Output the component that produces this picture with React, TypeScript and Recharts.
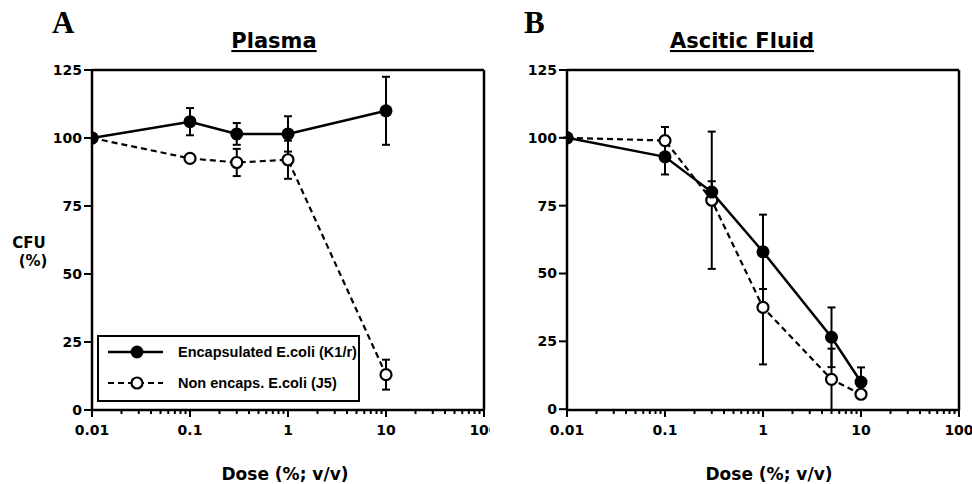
import React from "react";
import {
  LineChart,
  Line,
  XAxis,
  YAxis,
  ErrorBar,
  ReferenceLine,
} from "recharts";

// Plasma (panel A)
const plasmaDose = [0.01, 0.1, 0.3, 1, 10];
const plasmaEncap = [100, 106, 101.5, 101.5, 110];
const plasmaEncapErr: [number, number][] = [[0, 0], [5, 5], [4, 4], [6.5, 6.5], [12.5, 12.5]];
const plasmaNon = [100, 92.5, 91, 92, 13];
const plasmaNonErr: [number, number][] = [[0, 0], [0, 0], [5, 5], [7, 7], [5.5, 5.5]];

// Ascitic fluid (panel B)
const asciticDose = [0.01, 0.1, 0.3, 1, 5, 10];
const asciticEncap = [100, 93, 80, 58, 26.5, 10];
const asciticEncapErr: [number, number][] = [[0, 0], [6.5, 6.5], [4, 4], [13.7, 13.7], [11, 11], [5.4, 5.4]];
const asciticNon = [100, 99, 77, 37.5, 11, 5.5];
const asciticNonErr: [number, number][] = [[0, 0], [5, 5], [25.3, 25.3], [21, 21], [11.3, 11.3], [0, 0]];

const yTicks = [0, 25, 50, 75, 100, 125];
const majorTicks = [0.01, 0.1, 1, 10, 100];
const majorLabels = ["0.01", "0.1", "1", "10", "100"];
const xTicks: number[] = [];
for (let e = -2; e < 2; e++) {
  for (let m = 1; m < 10; m++) xTicks.push(Number((m * Math.pow(10, e)).toPrecision(3)));
}
xTicks.push(100);

const seriesNames = ["Encapsulated E.coli (K1/r)", "Non encaps. E.coli (J5)"];

const toRows = (xs: number[], ys: number[], errs: [number, number][]) =>
  xs.map((x, i) => ({ x, y: ys[i], err: errs[i] }));

const TICK_FONT = "'DejaVu Sans', sans-serif";

function LogTick(props: any) {
  const { x, y, payload } = props;
  const idx = majorTicks.indexOf(payload.value);
  const major = idx >= 0;
  return (
    <g>
      <line x1={x} x2={x} y1={y} y2={y + (major ? 7 : 4)} stroke="#000" strokeWidth={2} />
      {major && (
        <text x={x} y={y + 25} textAnchor="middle" fontFamily={TICK_FONT} fontWeight="bold" fontSize={14} fill="#000">
          {majorLabels[idx]}
        </text>
      )}
    </g>
  );
}

function FilledDot(props: any) {
  const { cx, cy } = props;
  if (cx == null || cy == null) return <g />;
  return <circle cx={cx} cy={cy} r={6.5} fill="#000" />;
}

function OpenDot(props: any) {
  const { cx, cy } = props;
  if (cx == null || cy == null) return <g />;
  return <circle cx={cx} cy={cy} r={5.5} fill="#fff" stroke="#000" strokeWidth={2.2} />;
}

function LegendBox() {
  return (
    <div
      style={{
        position: "absolute",
        left: 97,
        top: 335,
        border: "2.5px solid #000",
        width: 263,
        height: 67,
        background: "#fff",
        boxSizing: "border-box",
      }}
    >
      <svg width={258} height={62} style={{ display: "block" }}>
        <line x1={9} x2={64} y1={15} y2={15} stroke="#000" strokeWidth={2.5} />
        <circle cx={38} cy={15} r={6.5} fill="#000" />
        <text x={79} y={20} fontFamily="'Liberation Sans', Arial, sans-serif" fontWeight="bold" fontSize={14.5} fill="#000">
          {seriesNames[0]}
        </text>
        <line x1={9} x2={64} y1={46} y2={46} stroke="#000" strokeWidth={2.2} strokeDasharray="6 4" />
        <circle cx={38} cy={46} r={5.5} fill="#fff" stroke="#000" strokeWidth={2.2} />
        <text x={79} y={51} fontFamily="'Liberation Sans', Arial, sans-serif" fontWeight="bold" fontSize={14.5} fill="#000">
          {seriesNames[1]}
        </text>
      </svg>
    </div>
  );
}

function Panel(props: {
  width: number;
  margin: { top: number; right: number; bottom: number; left: number };
  encap: any[];
  non: any[];
}) {
  const { width, margin, encap, non } = props;
  return (
    <LineChart width={width} height={484} margin={margin}>
      <XAxis
        dataKey="x"
        type="number"
        scale="log"
        domain={[0.01, 100]}
        ticks={xTicks}
        allowDataOverflow
        tick={<LogTick />}
        tickSize={0}
        tickMargin={0}
        tickLine={false}
        axisLine={{ stroke: "#000", strokeWidth: 2.5 }}
        height={30}
        interval={0}
      />
      <YAxis
        type="number"
        domain={[0, 125]}
        ticks={yTicks}
        width={40}
        interval={0}
        tickSize={8}
        tickMargin={2}
        tickLine={{ stroke: "#000", strokeWidth: 2 }}
        axisLine={{ stroke: "#000", strokeWidth: 2.5 }}
        tick={{ fill: "#000", fontFamily: TICK_FONT, fontWeight: "bold", fontSize: 14 }}
      />
      <ReferenceLine y={125} stroke="#000" strokeWidth={2.5} ifOverflow="visible" />
      <ReferenceLine x={100} stroke="#000" strokeWidth={2.5} ifOverflow="visible" />
      <Line
        data={non}
        dataKey="y"
        stroke="#000"
        strokeWidth={2.2}
        strokeDasharray="6 4"
        dot={<OpenDot />}
        activeDot={false}
        isAnimationActive={false}
      >
        <ErrorBar dataKey="err" direction="y" width={4} stroke="#000" strokeWidth={2} isAnimationActive={false} />
      </Line>
      <Line
        data={encap}
        dataKey="y"
        stroke="#000"
        strokeWidth={2.5}
        dot={<FilledDot />}
        activeDot={false}
        isAnimationActive={false}
      >
        <ErrorBar dataKey="err" direction="y" width={4} stroke="#000" strokeWidth={2} isAnimationActive={false} />
      </Line>
    </LineChart>
  );
}

const labelStyle = { fontFamily: TICK_FONT, fontWeight: "bold" as const, fill: "#000" };

export default function App() {
  return (
    <div style={{ position: "absolute", left: 0, top: 0, width: 972, height: 484, background: "#fff" }}>
      <div style={{ position: "absolute", left: 0, top: 0 }}>
        <Panel
          width={490}
          margin={{ top: 70, right: 6, bottom: 44, left: 52 }}
          encap={toRows(plasmaDose, plasmaEncap, plasmaEncapErr)}
          non={toRows(plasmaDose, plasmaNon, plasmaNonErr)}
        />
      </div>
      <div style={{ position: "absolute", left: 490, top: 0 }}>
        <Panel
          width={482}
          margin={{ top: 70, right: 13, bottom: 44, left: 37 }}
          encap={toRows(asciticDose, asciticEncap, asciticEncapErr)}
          non={toRows(asciticDose, asciticNon, asciticNonErr)}
        />
      </div>
      <LegendBox />
      <svg width={972} height={484} style={{ position: "absolute", left: 0, top: 0, pointerEvents: "none" }}>
        <text x={52} y={33} fontFamily="'Liberation Serif', serif" fontWeight="bold" fontSize={31} fill="#000">A</text>
        <text x={524} y={33} fontFamily="'Liberation Serif', serif" fontWeight="bold" fontSize={31} fill="#000">B</text>
        <text x={274} y={48} textAnchor="middle" fontSize={21} style={{ textDecoration: "underline" }} {...labelStyle}>Plasma</text>
        <text x={742} y={48} textAnchor="middle" fontSize={21} style={{ textDecoration: "underline" }} {...labelStyle}>Ascitic Fluid</text>
        <text x={29} y={248} textAnchor="middle" fontSize={15} {...labelStyle}>CFU</text>
        <text x={33} y={266} textAnchor="middle" fontSize={15} {...labelStyle}>(%)</text>
        <text x={285} y={480} textAnchor="middle" fontSize={17} {...labelStyle}>Dose (%; v/v)</text>
        <text x={769} y={480} textAnchor="middle" fontSize={17} {...labelStyle}>Dose (%; v/v)</text>
      </svg>
    </div>
  );
}
